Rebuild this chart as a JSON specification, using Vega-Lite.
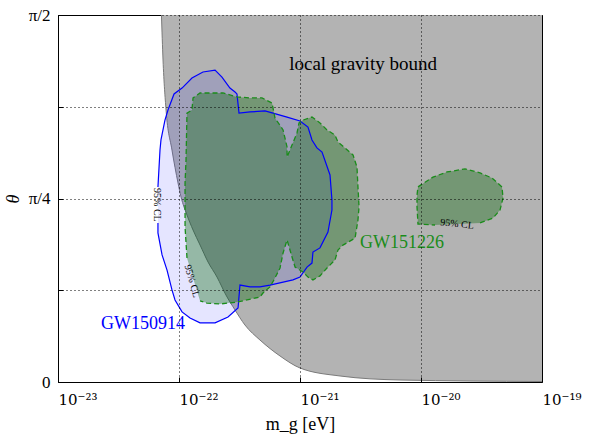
{
  "$schema": "https://vega.github.io/schema/vega-lite/v6.json",
  "width": 484,
  "height": 367,
  "autosize": {"type": "none"},
  "padding": {"left": 58, "top": 15, "right": 56, "bottom": 53},
  "background": "white",
  "config": {
    "font": "Liberation Serif",
    "view": {"stroke": "black", "strokeWidth": 1},
    "axis": {
      "grid": true,
      "gridColor": "black",
      "gridDash": [1, 3],
      "gridWidth": 1,
      "domain": false,
      "ticks": true,
      "tickColor": "black",
      "tickSize": -5,
      "labelFont": "Liberation Serif",
      "labelFontSize": 17,
      "labelColor": "black",
      "titleFont": "Liberation Serif",
      "titleFontSize": 18,
      "titleFontWeight": "normal",
      "titleColor": "black"
    }
  },
  "datasets": {
    "bound": [
      {"log_mg": -22.145, "theta": 1.5708},
      {"log_mg": -22.132, "theta": 1.3782},
      {"log_mg": -22.107, "theta": 1.1642},
      {"log_mg": -22.058, "theta": 0.9930},
      {"log_mg": -22.008, "theta": 0.8517},
      {"log_mg": -21.983, "theta": 0.7918},
      {"log_mg": -21.934, "theta": 0.7148},
      {"log_mg": -21.884, "theta": 0.6506},
      {"log_mg": -21.826, "theta": 0.5864},
      {"log_mg": -21.760, "theta": 0.5136},
      {"log_mg": -21.686, "theta": 0.4494},
      {"log_mg": -21.612, "theta": 0.3724},
      {"log_mg": -21.537, "theta": 0.3082},
      {"log_mg": -21.455, "theta": 0.2440},
      {"log_mg": -21.331, "theta": 0.1798},
      {"log_mg": -21.165, "theta": 0.1113},
      {"log_mg": -21.000, "theta": 0.0599},
      {"log_mg": -20.669, "theta": 0.0257},
      {"log_mg": -20.174, "theta": 0.0086},
      {"log_mg": -19.000, "theta": 0.0021}
    ],
    "gw150914": [
      {"i": 1, "log_mg": -22.174, "theta": 0.835},
      {"i": 2, "log_mg": -22.157, "theta": 0.993},
      {"i": 3, "log_mg": -22.149, "theta": 1.036},
      {"i": 4, "log_mg": -22.116, "theta": 1.121},
      {"i": 5, "log_mg": -22.091, "theta": 1.164},
      {"i": 6, "log_mg": -22.041, "theta": 1.233},
      {"i": 7, "log_mg": -21.975, "theta": 1.258},
      {"i": 8, "log_mg": -21.893, "theta": 1.301},
      {"i": 9, "log_mg": -21.802, "theta": 1.327},
      {"i": 10, "log_mg": -21.702, "theta": 1.335},
      {"i": 11, "log_mg": -21.645, "theta": 1.305},
      {"i": 12, "log_mg": -21.579, "theta": 1.258},
      {"i": 13, "log_mg": -21.537, "theta": 1.241},
      {"i": 14, "log_mg": -21.521, "theta": 1.233},
      {"i": 15, "log_mg": -21.504, "theta": 1.151},
      {"i": 16, "log_mg": -21.413, "theta": 1.156},
      {"i": 17, "log_mg": -21.289, "theta": 1.160},
      {"i": 18, "log_mg": -21.223, "theta": 1.151},
      {"i": 19, "log_mg": -21.107, "theta": 1.134},
      {"i": 20, "log_mg": -21.000, "theta": 1.117},
      {"i": 21, "log_mg": -20.934, "theta": 1.091},
      {"i": 22, "log_mg": -20.901, "theta": 1.036},
      {"i": 23, "log_mg": -20.860, "theta": 1.002},
      {"i": 24, "log_mg": -20.818, "theta": 0.984},
      {"i": 25, "log_mg": -20.752, "theta": 0.886},
      {"i": 26, "log_mg": -20.736, "theta": 0.779},
      {"i": 27, "log_mg": -20.736, "theta": 0.736},
      {"i": 28, "log_mg": -20.769, "theta": 0.642},
      {"i": 29, "log_mg": -20.835, "theta": 0.574},
      {"i": 30, "log_mg": -20.893, "theta": 0.556},
      {"i": 31, "log_mg": -20.901, "theta": 0.509},
      {"i": 32, "log_mg": -20.942, "theta": 0.492},
      {"i": 33, "log_mg": -21.000, "theta": 0.449},
      {"i": 34, "log_mg": -21.058, "theta": 0.437},
      {"i": 35, "log_mg": -21.248, "theta": 0.415},
      {"i": 36, "log_mg": -21.331, "theta": 0.407},
      {"i": 37, "log_mg": -21.413, "theta": 0.407},
      {"i": 38, "log_mg": -21.496, "theta": 0.415},
      {"i": 39, "log_mg": -21.512, "theta": 0.317},
      {"i": 40, "log_mg": -21.595, "theta": 0.278},
      {"i": 41, "log_mg": -21.702, "theta": 0.253},
      {"i": 42, "log_mg": -21.826, "theta": 0.253},
      {"i": 43, "log_mg": -21.909, "theta": 0.274},
      {"i": 44, "log_mg": -21.975, "theta": 0.300},
      {"i": 45, "log_mg": -22.033, "theta": 0.351},
      {"i": 46, "log_mg": -22.058, "theta": 0.394},
      {"i": 47, "log_mg": -22.099, "theta": 0.479},
      {"i": 48, "log_mg": -22.140, "theta": 0.544},
      {"i": 49, "log_mg": -22.174, "theta": 0.638},
      {"i": 50, "log_mg": -22.174, "theta": 0.681}
    ],
    "gw151226": [
      {"region": "a", "i": 1, "log_mg": -21.934, "theta": 0.531},
      {"region": "a", "i": 2, "log_mg": -21.950, "theta": 0.663},
      {"region": "a", "i": 3, "log_mg": -21.950, "theta": 0.852},
      {"region": "a", "i": 4, "log_mg": -21.942, "theta": 0.950},
      {"region": "a", "i": 5, "log_mg": -21.934, "theta": 1.151},
      {"region": "a", "i": 6, "log_mg": -21.893, "theta": 1.164},
      {"region": "a", "i": 7, "log_mg": -21.884, "theta": 1.216},
      {"region": "a", "i": 8, "log_mg": -21.826, "theta": 1.237},
      {"region": "a", "i": 9, "log_mg": -21.727, "theta": 1.237},
      {"region": "a", "i": 10, "log_mg": -21.636, "theta": 1.237},
      {"region": "a", "i": 11, "log_mg": -21.521, "theta": 1.220},
      {"region": "a", "i": 12, "log_mg": -21.413, "theta": 1.216},
      {"region": "a", "i": 13, "log_mg": -21.314, "theta": 1.216},
      {"region": "a", "i": 14, "log_mg": -21.231, "theta": 1.194},
      {"region": "a", "i": 15, "log_mg": -21.207, "theta": 1.130},
      {"region": "a", "i": 16, "log_mg": -21.140, "theta": 1.079},
      {"region": "a", "i": 17, "log_mg": -21.107, "theta": 1.006},
      {"region": "a", "i": 18, "log_mg": -21.107, "theta": 0.963},
      {"region": "a", "i": 19, "log_mg": -21.066, "theta": 1.014},
      {"region": "a", "i": 20, "log_mg": -21.025, "theta": 1.066},
      {"region": "a", "i": 21, "log_mg": -21.008, "theta": 1.109},
      {"region": "a", "i": 22, "log_mg": -20.975, "theta": 1.121},
      {"region": "a", "i": 23, "log_mg": -20.901, "theta": 1.134},
      {"region": "a", "i": 24, "log_mg": -20.835, "theta": 1.109},
      {"region": "a", "i": 25, "log_mg": -20.777, "theta": 1.079},
      {"region": "a", "i": 26, "log_mg": -20.711, "theta": 1.057},
      {"region": "a", "i": 27, "log_mg": -20.686, "theta": 1.027},
      {"region": "a", "i": 28, "log_mg": -20.628, "theta": 1.002},
      {"region": "a", "i": 29, "log_mg": -20.562, "theta": 0.972},
      {"region": "a", "i": 30, "log_mg": -20.529, "theta": 0.920},
      {"region": "a", "i": 31, "log_mg": -20.521, "theta": 0.835},
      {"region": "a", "i": 32, "log_mg": -20.512, "theta": 0.749},
      {"region": "a", "i": 33, "log_mg": -20.521, "theta": 0.693},
      {"region": "a", "i": 34, "log_mg": -20.545, "theta": 0.616},
      {"region": "a", "i": 35, "log_mg": -20.645, "theta": 0.586},
      {"region": "a", "i": 36, "log_mg": -20.686, "theta": 0.565},
      {"region": "a", "i": 37, "log_mg": -20.711, "theta": 0.522},
      {"region": "a", "i": 38, "log_mg": -20.777, "theta": 0.488},
      {"region": "a", "i": 39, "log_mg": -20.835, "theta": 0.454},
      {"region": "a", "i": 40, "log_mg": -20.893, "theta": 0.437},
      {"region": "a", "i": 41, "log_mg": -20.934, "theta": 0.449},
      {"region": "a", "i": 42, "log_mg": -20.975, "theta": 0.471},
      {"region": "a", "i": 43, "log_mg": -21.041, "theta": 0.492},
      {"region": "a", "i": 44, "log_mg": -21.066, "theta": 0.535},
      {"region": "a", "i": 45, "log_mg": -21.107, "theta": 0.608},
      {"region": "a", "i": 46, "log_mg": -21.140, "theta": 0.552},
      {"region": "a", "i": 47, "log_mg": -21.165, "theta": 0.488},
      {"region": "a", "i": 48, "log_mg": -21.207, "theta": 0.445},
      {"region": "a", "i": 49, "log_mg": -21.248, "theta": 0.407},
      {"region": "a", "i": 50, "log_mg": -21.306, "theta": 0.381},
      {"region": "a", "i": 51, "log_mg": -21.331, "theta": 0.364},
      {"region": "a", "i": 52, "log_mg": -21.521, "theta": 0.342},
      {"region": "a", "i": 53, "log_mg": -21.661, "theta": 0.334},
      {"region": "a", "i": 54, "log_mg": -21.769, "theta": 0.338},
      {"region": "a", "i": 55, "log_mg": -21.826, "theta": 0.347},
      {"region": "b", "i": 1, "log_mg": -19.512, "theta": 0.681},
      {"region": "b", "i": 2, "log_mg": -19.405, "theta": 0.702},
      {"region": "b", "i": 3, "log_mg": -19.347, "theta": 0.736},
      {"region": "b", "i": 4, "log_mg": -19.322, "theta": 0.788},
      {"region": "b", "i": 5, "log_mg": -19.331, "theta": 0.835},
      {"region": "b", "i": 6, "log_mg": -19.413, "theta": 0.873},
      {"region": "b", "i": 7, "log_mg": -19.512, "theta": 0.895},
      {"region": "b", "i": 8, "log_mg": -19.636, "theta": 0.912},
      {"region": "b", "i": 9, "log_mg": -19.785, "theta": 0.899},
      {"region": "b", "i": 10, "log_mg": -19.901, "theta": 0.877},
      {"region": "b", "i": 11, "log_mg": -20.025, "theta": 0.835},
      {"region": "b", "i": 12, "log_mg": -20.033, "theta": 0.800},
      {"region": "b", "i": 13, "log_mg": -20.033, "theta": 0.749},
      {"region": "b", "i": 14, "log_mg": -20.025, "theta": 0.676},
      {"region": "b", "i": 15, "log_mg": -19.884, "theta": 0.672}
    ]
  },
  "layer": [
    {
      "data": {"name": "bound"},
      "mark": {"type": "area", "color": "#b3b3b3", "opacity": 1, "interpolate": "monotone"},
      "encoding": {
        "x": {
          "field": "log_mg",
          "type": "quantitative",
          "scale": {"domain": [-23, -19], "nice": false, "zero": false},
          "axis": {
            "zindex": 1,
            "values": [-23, -22, -21, -20, -19],
            "labelExpr": "'10' + (datum.value == -23 ? '⁻²³' : datum.value == -22 ? '⁻²²' : datum.value == -21 ? '⁻²¹' : datum.value == -20 ? '⁻²⁰' : '⁻¹⁹')",
            "labelFont": "DejaVu Serif",
            "labelFontSize": 15,
            "labelAlign": "left",
            "labelDx": 3,
            "labelPadding": 15,
            "title": "m_g [eV]",
            "titlePadding": 8
          }
        },
        "y": {
          "field": "theta",
          "type": "quantitative",
          "scale": {"domain": [0, 1.5708], "nice": false, "zero": false},
          "axis": {
            "zindex": 1,
            "values": [0, 0.3927, 0.7854, 1.1781, 1.5708],
            "labelExpr": "datum.value < 0.1 ? '0' : abs(datum.value - 0.7854) < 0.01 ? 'π/4' : abs(datum.value - 1.5708) < 0.01 ? 'π/2' : ''",
            "labelPadding": 13,
            "title": "θ",
            "titleFontStyle": "italic",
            "titlePadding": 6
          }
        },
        "y2": {"datum": 1.5708}
      }
    },
    {
      "data": {"name": "bound"},
      "mark": {"type": "line", "color": "#7a7a7a", "strokeWidth": 1, "interpolate": "monotone"},
      "encoding": {
        "x": {"field": "log_mg", "type": "quantitative"},
        "y": {"field": "theta", "type": "quantitative"}
      }
    },
    {
      "data": {"name": "gw150914"},
      "mark": {"type": "line", "fill": "blue", "fillOpacity": 0.1, "strokeOpacity": 0},
      "encoding": {
        "x": {"field": "log_mg", "type": "quantitative"},
        "y": {"field": "theta", "type": "quantitative"},
        "order": {"field": "i", "type": "quantitative"}
      }
    },
    {
      "data": {"name": "gw151226"},
      "mark": {"type": "line", "fill": "darkgreen", "fillOpacity": 0.35, "strokeOpacity": 0},
      "encoding": {
        "x": {"field": "log_mg", "type": "quantitative"},
        "y": {"field": "theta", "type": "quantitative"},
        "detail": {"field": "region"},
        "order": {"field": "i", "type": "quantitative"}
      }
    },
    {
      "data": {"name": "gw150914"},
      "mark": {"type": "line", "color": "blue", "strokeWidth": 1.2},
      "encoding": {
        "x": {"field": "log_mg", "type": "quantitative"},
        "y": {"field": "theta", "type": "quantitative"},
        "order": {"field": "i", "type": "quantitative"}
      }
    },
    {
      "data": {"name": "gw151226"},
      "mark": {"type": "line", "color": "#1a8c1a", "strokeWidth": 1.3, "strokeDash": [5, 3]},
      "encoding": {
        "x": {"field": "log_mg", "type": "quantitative"},
        "y": {"field": "theta", "type": "quantitative"},
        "detail": {"field": "region"},
        "order": {"field": "i", "type": "quantitative"}
      }
    },
    {
      "data": {"values": [{"label": "local gravity bound", "log_mg": -20.479, "theta": 1.361}]},
      "mark": {"type": "text", "font": "Liberation Serif", "fontSize": 19, "color": "black"},
      "encoding": {
        "x": {"field": "log_mg", "type": "quantitative"},
        "y": {"field": "theta", "type": "quantitative"},
        "text": {"field": "label"}
      }
    },
    {
      "data": {"values": [{"label": "GW150914", "log_mg": -22.298, "theta": 0.248}]},
      "mark": {"type": "text", "font": "Liberation Serif", "fontSize": 18, "color": "blue"},
      "encoding": {
        "x": {"field": "log_mg", "type": "quantitative"},
        "y": {"field": "theta", "type": "quantitative"},
        "text": {"field": "label"}
      }
    },
    {
      "data": {"values": [{"label": "GW151226", "log_mg": -20.157, "theta": 0.595}]},
      "mark": {"type": "text", "font": "Liberation Serif", "fontSize": 18, "color": "#1a8c1a"},
      "encoding": {
        "x": {"field": "log_mg", "type": "quantitative"},
        "y": {"field": "theta", "type": "quantitative"},
        "text": {"field": "label"}
      }
    },
    {
      "data": {"values": [{"label": "95% CL", "log_mg": -22.182, "theta": 0.758}]},
      "mark": {"type": "text", "font": "Liberation Serif", "fontSize": 10, "color": "black", "angle": 90},
      "encoding": {
        "x": {"field": "log_mg", "type": "quantitative"},
        "y": {"field": "theta", "type": "quantitative"},
        "text": {"field": "label"}
      }
    },
    {
      "data": {"values": [{"label": "95% CL", "log_mg": -21.893, "theta": 0.432}]},
      "mark": {"type": "text", "font": "Liberation Serif", "fontSize": 10, "color": "black", "angle": 74},
      "encoding": {
        "x": {"field": "log_mg", "type": "quantitative"},
        "y": {"field": "theta", "type": "quantitative"},
        "text": {"field": "label"}
      }
    },
    {
      "data": {"values": [{"label": "95% CL", "log_mg": -19.702, "theta": 0.676}]},
      "mark": {"type": "text", "font": "Liberation Serif", "fontSize": 10, "color": "black", "angle": 6},
      "encoding": {
        "x": {"field": "log_mg", "type": "quantitative"},
        "y": {"field": "theta", "type": "quantitative"},
        "text": {"field": "label"}
      }
    }
  ]
}
